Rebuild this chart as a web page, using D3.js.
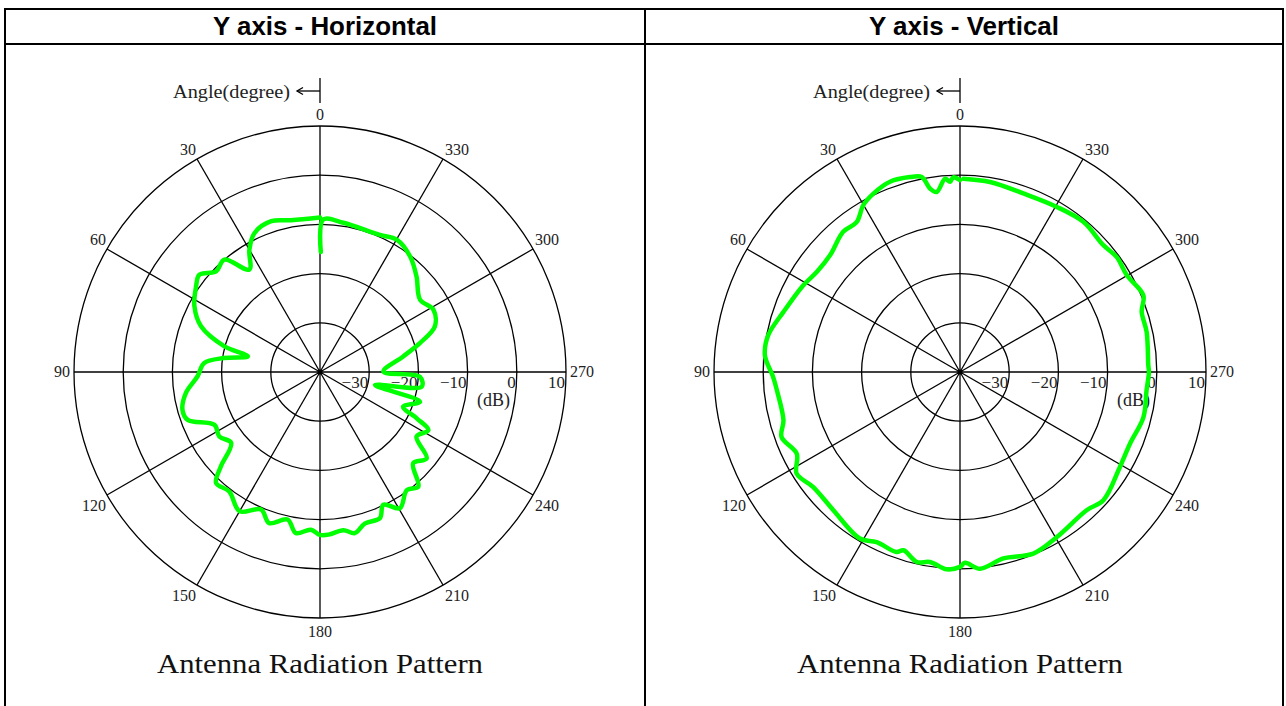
<!DOCTYPE html>
<html><head><meta charset="utf-8">
<script src="https://cdn.jsdelivr.net/npm/d3@7/dist/d3.min.js"></script>
<style>body{margin:0;background:#fff}svg{display:block}</style></head>
<body>
<svg id="c" width="1286" height="706"></svg>
<script>
const panelTitles = ["Y axis - Horizontal", "Y axis - Vertical"];
const angleTicks = [0, 30, 60, 90, 120, 150, 180, 210, 240, 270, 300, 330];
const ringTicks = [-30, -20, -10, 0, 10];
const chartTitle = "Antenna Radiation Pattern";

const horizontalAngles = [0, 10.8, 17.9, 25.3, 30, 34.6, 40.4, 45.9, 51.1, 55.4, 62.4, 69, 75, 77.8, 81.7, 85.5, 92, 98.9, 105.5, 109.9, 116.6, 122.6, 128.6, 133.6, 136.9, 142.8, 150, 156.8, 161.4, 167.6, 171.5, 176.7, 180, 183, 188.4, 192.2, 196.6, 202.3, 205.5, 210.4, 216.3, 220.6, 225.6, 231, 236.2, 241.8, 244.4, 247.3, 253.5, 256.7, 261.8, 267.3, 270.3, 280.6, 286.2, 291.6, 298.8, 305.9, 314.7, 322.1, 329.9, 336.4, 351.1, 358.8, 359.6];
const horizontalDb = [-8.6, -8.6, -7.8, -8.8, -11.3, -14.7, -10.0, -10.6, -8.5, -9.4, -11.2, -14.1, -19.9, -25, -20.3, -16.4, -15.1, -12.4, -11, -11.4, -16, -15.7, -16.9, -12.2, -9.1, -9.5, -7.3, -9.6, -7.6, -9.3, -6.9, -7.9, -6.9, -6.9, -7.5, -6.5, -7.9, -7.9, -10.1, -7.9, -10.2, -9.3, -13.5, -12.1, -16.4, -15.0, -18.2, -21.7, -18.8, -28.5, -19.1, -19.7, -27.1, -22.8, -18.8, -14.9, -13.7, -14.9, -12.4, -10.2, -8.9, -9.6, -9.3, -9.0, -15.6];

const verticalAngles = [0, 2, 3, 4.4, 7.4, 9.3, 11.1, 14.4, 20.2, 25.9, 30.1, 34.6, 39.8, 48.1, 55.1, 61, 71.2, 79.2, 85.1, 91.5, 95.7, 105.3, 110, 116.6, 121.9, 128.1, 137.5, 149, 153.9, 160.6, 162.4, 167.2, 171, 176.1, 180, 181.5, 185.8, 193.1, 202, 210.4, 222.5, 228.2, 239.3, 247.2, 256.2, 264.4, 270, 272, 282.1, 288.3, 292.7, 300.1, 306.3, 311.5, 320.6, 329.6, 340.5, 351, 359];
const verticalDb = [-1.0, -0.4, -1.3, -0.6, -3.1, -2.2, 0.4, 0.9, 1.2, 0.3, -0.8, -3.0, -2.9, -4.5, -4.5, -3.6, -2.1, -0.3, -0.2, -2.0, -2.6, -2.8, -1.4, -2.9, -0.9, -2.1, -1.9, -0.5, -1.5, -1.2, -2.0, -0.4, -0.9, 0.2, -0.4, -1.2, 0.2, -1.1, -0.2, -1.1, -1.9, -0.9, -2.2, -2.5, -1.6, -1.9, -1.6, -1.7, -1.2, -1.1, 0.4, -0.8, -0.5, -1.1, -0.5, -1.1, -1.5, -0.9, -0.7];

const series = [
  d3.zip(horizontalAngles, horizontalDb),
  d3.zip(verticalAngles, verticalDb)
];

const svg = d3.select("#c");
const cellX = [5, 645, 1283];
const topY = 9, headY = 44;
const serif = "'Liberation Serif','DejaVu Serif',serif";

// table frame
const frame = svg.append("g").attr("stroke", "#000").attr("stroke-width", 2);
frame.append("line").attr("x1", cellX[0]).attr("x2", cellX[2]).attr("y1", topY).attr("y2", topY);
frame.append("line").attr("x1", cellX[0]).attr("x2", cellX[2]).attr("y1", headY).attr("y2", headY);
cellX.forEach(x => frame.append("line").attr("x1", x).attr("x2", x).attr("y1", topY - 1).attr("y2", 706));

const r = d3.scaleLinear().domain([-40, 10]).range([0, 246]);
const R = r(10);
const rad = d => d * Math.PI / 180;

panelTitles.forEach((title, i) => {
  const cellCx = (cellX[i] + cellX[i + 1]) / 2;
  svg.append("text").attr("x", cellCx).attr("y", 35)
    .attr("text-anchor", "middle").attr("font-family", "'Liberation Sans',Arial,sans-serif")
    .attr("font-weight", "bold").attr("font-size", 26)
    .attr("textLength", i === 0 ? 224 : 190).attr("lengthAdjust", "spacingAndGlyphs")
    .text(title);

  const cx = 320 + 640 * i, cy = 372;
  const g = svg.append("g").attr("transform", `translate(${cx},${cy})`);

  // rings
  g.selectAll("circle.ring").data(ringTicks).join("circle")
    .attr("r", d => r(d)).attr("fill", "none").attr("stroke", "#000").attr("stroke-width", 1.3);

  // spokes
  g.selectAll("line.spoke").data(angleTicks).join("line")
    .attr("x1", 0).attr("y1", 0)
    .attr("x2", d => -R * Math.sin(rad(d))).attr("y2", d => -R * Math.cos(rad(d)))
    .attr("stroke", "#000").attr("stroke-width", 1.3);
  g.append("circle").attr("r", 2.5).attr("fill", "#000");

  // angle labels
  g.selectAll("text.ang").data(angleTicks).join("text")
    .attr("font-family", serif).attr("font-size", 16).attr("fill", "#222")
    .each(function (d) {
      const ex = -R * Math.sin(rad(d)), ey = -R * Math.cos(rad(d));
      let anchor, x, y;
      if (d === 0) { anchor = "middle"; x = ex; y = ey - 6; }
      else if (d === 180) { anchor = "middle"; x = ex; y = ey + 19; }
      else if (d === 90) { anchor = "end"; x = ex - 4; y = ey + 5; }
      else if (d === 270) { anchor = "start"; x = ex + 4; y = ey + 5; }
      else {
        anchor = d < 180 ? "end" : "start";
        x = d < 180 ? ex - 1 : ex + 2;
        y = (d < 90 || d > 270) ? ey - 4 : ey + 16;
      }
      d3.select(this).attr("x", x).attr("y", y).attr("text-anchor", anchor).text(d);
    });

  // ring labels
  g.selectAll("text.rl").data(ringTicks).join("text")
    .attr("font-family", serif).attr("font-size", 17).attr("fill", "#222")
    .attr("text-anchor", "end").attr("x", d => r(d) - 1).attr("y", 16)
    .text(d => d < 0 ? "\u2212" + Math.abs(d) : d);
  g.append("text").attr("font-family", serif).attr("font-size", 18).attr("fill", "#222")
    .attr("x", 157).attr("y", 34).text("(dB)");

  // Angle(degree) marker
  g.append("text").attr("font-family", serif).attr("font-size", 19).attr("fill", "#222")
    .attr("text-anchor", "end").attr("x", -30).attr("y", -274)
    .attr("textLength", 117).attr("lengthAdjust", "spacingAndGlyphs").text("Angle(degree)");
  g.append("line").attr("x1", 0).attr("x2", 0).attr("y1", -294).attr("y2", -269).attr("stroke", "#000").attr("stroke-width", 1.3);
  g.append("line").attr("x1", 0).attr("x2", -23).attr("y1", -281).attr("y2", -281).attr("stroke", "#000").attr("stroke-width", 1.3);
  g.append("path").attr("d", "M-17,-284.5 L-23,-281 L-17,-277.5").attr("fill", "none").attr("stroke", "#000").attr("stroke-width", 1.3);

  // pattern
  const line = d3.lineRadial()
    .angle(d => -rad(d[0]))
    .radius(d => r(d[1]))
    .curve(d3.curveCatmullRom.alpha(0.5));
  g.append("path").datum(series[i]).attr("d", line)
    .attr("fill", "none").attr("stroke", "#00ff00").attr("stroke-width", 4.5)
    .attr("stroke-linejoin", "round").attr("stroke-linecap", "round");

  // chart title
  svg.append("text").attr("x", cx).attr("y", 673).attr("text-anchor", "middle")
    .attr("font-family", serif).attr("font-size", 28).attr("fill", "#111")
    .attr("textLength", 326).attr("lengthAdjust", "spacingAndGlyphs").text(chartTitle);
});
</script>
</body></html>
